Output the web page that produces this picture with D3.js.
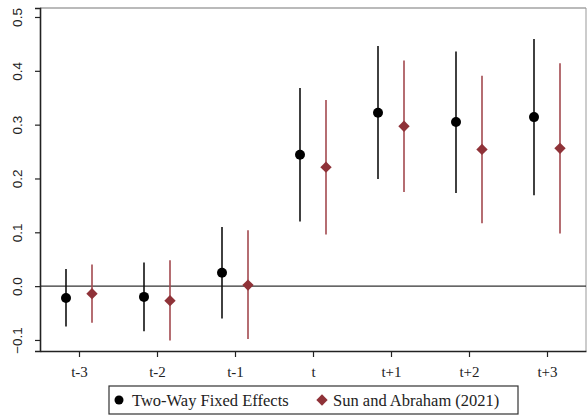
<!DOCTYPE html>
<html>
<head>
<meta charset="utf-8">
<script src="https://cdn.jsdelivr.net/npm/d3@7"></script>
<style>
  body { margin: 0; background: #fff; }
  svg { display: block; }
</style>
</head>
<body>
<script>
// event-time periods and estimates
var periods = ["t-3", "t-2", "t-1", "t", "t+1", "t+2", "t+3"];
var twfeEst = [-0.022, -0.020, 0.025, 0.244, 0.322, 0.305, 0.314];
var twfeLo  = [-0.075, -0.084, -0.060, 0.120, 0.199, 0.173, 0.169];
var twfeHi  = [0.032, 0.044, 0.110, 0.368, 0.446, 0.436, 0.459];
var saEst = [-0.014, -0.027, 0.002, 0.221, 0.297, 0.254, 0.256];
var saLo  = [-0.068, -0.101, -0.098, 0.096, 0.175, 0.117, 0.098];
var saHi  = [0.040, 0.048, 0.104, 0.346, 0.419, 0.391, 0.414];
var yTicks = [-0.1, 0, 0.1, 0.2, 0.3, 0.4, 0.5];
var legendLabels = ["Two-Way Fixed Effects", "Sun and Abraham (2021)"];

var W = 587, H = 418;
var margin = {top: 8, right: 1, bottom: 67, left: 40},
	width = W - margin.left - margin.right,
	height = H - margin.top - margin.bottom;

var red = "#8f3238";

var svg = d3.select("body").append("svg")
	.attr("width", W)
	.attr("height", H);

var g = svg.append("g")
	.attr("transform", "translate(" + margin.left + "," + margin.top + ")");

var x = d3.scalePoint()
	.domain(periods)
	.range([0, width])
	.padding(0.5);

var y = d3.scaleLinear()
	.domain([-0.1205, 0.5167])
	.range([height, 0]);

// frame on top and right
g.append("line").attr("x1", 0).attr("x2", width).attr("y1", 0).attr("y2", 0)
	.attr("stroke", "#777").attr("stroke-width", 1.2);
g.append("line").attr("x1", width).attr("x2", width).attr("y1", 0).attr("y2", height)
	.attr("stroke", "#999").attr("stroke-width", 1);

// zero line
g.append("line")
	.attr("x1", 0).attr("x2", width)
	.attr("y1", y(0)).attr("y2", y(0))
	.attr("stroke", "#333").attr("stroke-width", 1.3);

// y axis
var yAxis = g.append("g")
	.call(d3.axisLeft(y).tickValues(yTicks).tickSize(5).tickPadding(8)
		.tickFormat(d3.format(".1f")));
yAxis.select(".domain").attr("stroke", "#222").attr("stroke-width", 1.6);
yAxis.selectAll(".tick line").attr("stroke", "#222").attr("stroke-width", 1.2);
yAxis.selectAll("text")
	.attr("font-family", "'Liberation Sans', Arial, sans-serif")
	.attr("font-size", 13.5)
	.attr("fill", "#222")
	.attr("text-anchor", "middle")
	.attr("dy", null)
	.attr("x", 0)
	.attr("y", 0)
	.attr("transform", "translate(-18,0) rotate(-90)");

// x axis
var xAxis = g.append("g")
	.attr("transform", "translate(0," + height + ")")
	.call(d3.axisBottom(x).tickSize(6).tickPadding(9).tickSizeOuter(0));
xAxis.select(".domain").attr("stroke", "#222").attr("stroke-width", 1.6);
xAxis.selectAll(".tick line").attr("stroke", "#222").attr("stroke-width", 1.2);
xAxis.selectAll("text")
	.attr("font-family", "'Liberation Serif', 'DejaVu Serif', serif")
	.attr("font-size", 15)
	.attr("fill", "#222");

var off = 13;

// TWFE series
var tw = g.append("g");
tw.selectAll("line").data(periods).enter().append("line")
	.attr("x1", function(d) { return x(d) - off; })
	.attr("x2", function(d) { return x(d) - off; })
	.attr("y1", function(d, i) { return y(twfeLo[i]); })
	.attr("y2", function(d, i) { return y(twfeHi[i]); })
	.attr("stroke", "#111").attr("stroke-width", 1.6);
tw.selectAll("circle").data(periods).enter().append("circle")
	.attr("cx", function(d) { return x(d) - off; })
	.attr("cy", function(d, i) { return y(twfeEst[i]); })
	.attr("r", 5)
	.attr("fill", "#000");

// Sun and Abraham series
var sa = g.append("g");
sa.selectAll("line").data(periods).enter().append("line")
	.attr("x1", function(d) { return x(d) + off; })
	.attr("x2", function(d) { return x(d) + off; })
	.attr("y1", function(d, i) { return y(saLo[i]); })
	.attr("y2", function(d, i) { return y(saHi[i]); })
	.attr("stroke", "#a3494f").attr("stroke-width", 1.6);
var diamond = d3.symbol().type(d3.symbolDiamond2).size(82);
sa.selectAll("path").data(periods).enter().append("path")
	.attr("d", diamond)
	.attr("transform", function(d, i) {
		return "translate(" + (x(d) + off) + "," + y(saEst[i]) + ")";
	})
	.attr("fill", red);

// legend
var lg = svg.append("g").attr("transform", "translate(109,386)");
lg.append("rect")
	.attr("x", 0).attr("y", 0).attr("width", 409).attr("height", 28)
	.attr("fill", "#fff").attr("stroke", "#333").attr("stroke-width", 1.2);
lg.append("circle").attr("cx", 10).attr("cy", 14).attr("r", 4.5).attr("fill", "#000");
lg.append("path").attr("d", diamond)
	.attr("transform", "translate(213,14)")
	.attr("fill", red);
lg.selectAll("text").data(legendLabels).enter().append("text")
	.attr("x", function(d, i) { return i === 0 ? 23 : 224; })
	.attr("y", 19.5)
	.attr("font-family", "'Liberation Serif', 'DejaVu Serif', serif")
	.attr("font-size", 16.5)
	.attr("fill", "#222")
	.text(function(d) { return d; });
</script>
</body>
</html>
